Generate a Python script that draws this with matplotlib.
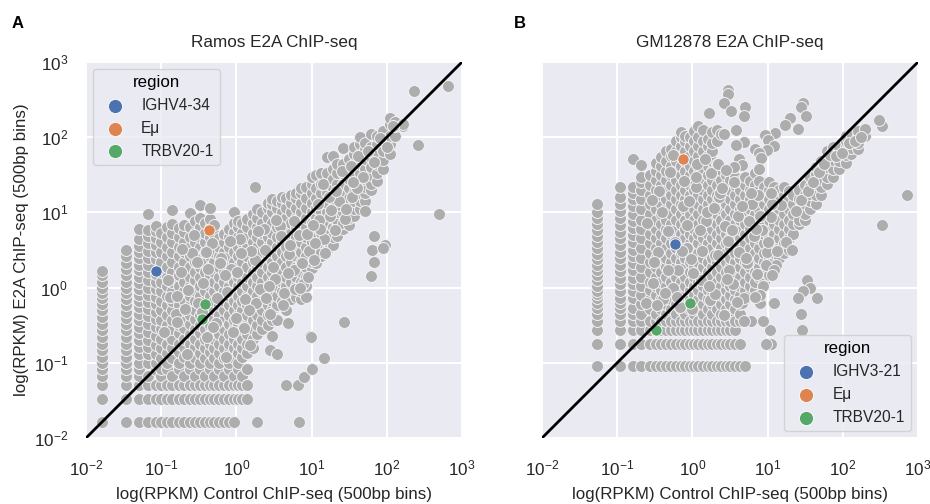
import matplotlib
matplotlib.use('Agg')
import matplotlib.pyplot as plt

plt.rcParams['font.family'] = ['Liberation Sans', 'DejaVu Sans']
plt.rcParams['mathtext.default'] = 'regular'

gray = '#adadad'
region_colors = ['#4C72B0', '#DD8452', '#55A868']

# panel A, columns of the dense cloud
a_col_x = [0.0165, 0.034, 0.05, 0.067, 0.085, 0.1, 0.12, 0.14, 0.17, 0.2, 0.24, 0.28, 0.33, 0.38, 0.44, 0.5,
           0.58, 0.68, 0.8, 0.92, 1.05, 1.2, 1.4, 1.65, 1.9, 2.2, 2.6, 3, 3.5, 4, 4.6, 5.4, 6.2, 7.2, 8.4,
           10, 11.5, 13.5, 16, 19, 22, 26, 31, 37, 44, 52, 62, 75, 90, 110, 130, 165]
a_col_y = [
    [.0165, .033, .05, .066, .083, .1, .12, .15, .18, .22, .27, .33, .41, .5, .6, .72, .85, 1, 1.2, 1.45, 1.65],
    [.0165, .033, .05, .066, .083, .1, .12, .15, .18, .22, .27, .33, .4, .48, .58, .7, .85, 1, 1.2, 1.45, 1.75, 2.1, 2.6, 3.2],
    [.0165, .033, .05, .066, .083, .1, .13, .16, .2, .25, .3, .37, .45, .55, .66, .8, .95, 1.15, 1.4, 1.7, 2, 2.5, 3, 3.6, 4.4, 6],
    [.0165, .033, .05, .066, .1, .13, .16, .2, .26, .33, .42, .52, .65, .8, 1, 1.25, 1.6, 2, 2.5, 3.1, 3.9, 4.8, 5.8, 9.6],
    [.0165, .033, .05, .08, .1, .13, .17, .23, .3, .38, .48, .6, .75, .95, 1.2, 1.5, 2.4, 3, 3.7, 4.6, 5.6, 6.5],
    [.0165, .033, .05, .066, .083, .115, .155, .21, .28, .37, .5, .67, .9, 1.2, 1.6, 2.2, 3, 4, 5.4],
    [.0165, .033, .05, .083, .1, .135, .18, .24, .32, .43, .58, .78, 1.05, 1.4, 1.9, 2.6, 3.5, 4.7, 6.3],
    [.0165, .033, .05, .066, .115, .155, .21, .28, .37, .5, .67, .9, 1.2, 1.6, 2.2, 3, 4, 5.4, 7, 10.6],
    [.0165, .033, .05, .083, .1, .14, .18, .25, .32, .44, .58, .8, 1.05, 1.45, 1.9, 2.6, 3.5, 4.7, 6.2],
    [.0165, .033, .05, .066, .12, .16, .21, .29, .37, .5, .68, .9, 1.2, 1.65, 2.2, 3, 4, 5.5, 6.8],
    [.0165, .033, .05, .083, .1, .135, .18, .24, .33, .43, .58, .78, 1.05, 1.4, 1.9, 2.6, 3.5, 4.7, 6.3, 9.8],
    [.0165, .033, .05, .066, .115, .16, .21, .28, .38, .5, .67, .9, 1.25, 1.6, 2.2, 3, 4, 5.4, 7.6],
    [.0165, .033, .05, .083, .1, .135, .18, .25, .32, .43, .6, .78, 1.05, 1.4, 1.9, 2.7, 3.5, 4.7, 6.3, 8.4, 12.6],
    [.0165, .033, .05, .066, .115, .155, .21, .28, .37, .52, .67, .9, 1.2, 1.6, 2.2, 3, 4.1, 5.4, 7.2],
    [.0165, .033, .05, .083, .1, .14, .18, .24, .32, .43, .58, .78, 1.05, 1.45, 1.9, 2.6, 3.5, 4.7, 6.2, 8.2, 11.5],
    [.0165, .033, .05, .066, .115, .155, .21, .28, .38, .5, .67, .9, 1.2, 1.6, 2.2, 3, 4, 5.2, 6.8],
    [.0165, .033, .05, .083, .1, .135, .18, .24, .32, .43, .58, .78, 1.05, 1.4, 1.9, 2.6, 3.5, 4.6],
    [.0165, .033, .05, .066, .115, .155, .21, .28, .37, .5, .67, .9, 1.2, 1.6, 2.2, 3, 4, 5.2],
    [.0165, .033, .05, .083, .1, .135, .18, .24, .33, .43, .58, .78, 1.05, 1.4, 1.9, 2.6, 3.5, 4.7, 6],
    [.0165, .033, .05, .066, .115, .155, .21, .28, .37, .5, .67, .9, 1.2, 1.6, 2.2, 3, 4, 5.5, 7.3, 10.2],
    [.033, .05, .083, .1, .135, .18, .24, .32, .43, .58, .78, 1.05, 1.4, 1.9, 2.6, 3.5, 4.7, 6.3, 7.6],
    [.033, .05, .066, .12, .155, .21, .28, .37, .5, .67, .9, 1.2, 1.6, 2.2, 3, 4, 5.4, 7.3],
    [.033, .05, .083, .135, .18, .24, .32, .43, .58, .78, 1.05, 1.4, 1.9, 2.6, 3.5, 4.7, 6.3, 8.2],
    [.155, .21, .28, .37, .5, .67, .9, 1.2, 1.6, 2.2, 3, 4, 5.4, 7.3, 9.5],
    [.24, .32, .43, .58, .78, 1.05, 1.4, 1.9, 2.6, 3.5, 4.7, 6.3, 8.5, 11],
    [.28, .37, .5, .67, .9, 1.2, 1.6, 2.2, 3, 4, 5.4, 7.3, 10],
    [.32, .43, .58, .78, 1.05, 1.4, 1.9, 2.6, 3.5, 4.7, 6.3, 8.5, 11.5, 13.3],
    [.37, .5, .67, .9, 1.2, 1.6, 2.2, 3, 4, 5.4, 7.3, 10, 13, 15],
    [.37, .58, .78, 1.05, 1.4, 1.9, 2.6, 3.5, 4.7, 6.3, 8.5, 11.5, 14],
    [.67, .9, 1.2, 1.6, 2.2, 3, 4, 5.4, 7.3, 10, 13.5, 16],
    [.5, .78, 1.05, 1.4, 1.9, 2.6, 3.5, 4.7, 6.3, 8.5, 11.5, 15.5],
    [.7, .9, 1.2, 1.6, 2.2, 3, 4, 5.4, 7.3, 10, 13.5, 17],
    [.75, 1.05, 1.4, 1.9, 2.6, 3.5, 4.7, 6.3, 8.5, 11.5, 15.5, 18],
    [.7, .9, 1.2, 1.6, 2.2, 3, 4, 5.4, 7.3, 10, 13.5, 18, 21],
    [.75, 1.05, 1.4, 1.9, 2.6, 3.5, 4.7, 6.3, 8.5, 11.5, 15.5, 22],
    [1.8, 2.2, 3, 4, 5.4, 7.3, 10, 13.5, 18, 24, 30],
    [2.1, 2.6, 3.5, 4.7, 6.3, 8.5, 11.5, 15.5, 21, 31],
    [2.6, 3, 4, 5.4, 7.3, 10, 13.5, 18, 24, 33],
    [3.2, 4.2, 5.4, 7.3, 10, 13.5, 18, 24, 33, 55],
    [3.7, 4.7, 6.3, 8.5, 11.5, 15.5, 21, 28, 38, 57],
    [4.8, 6, 8, 10, 13.5, 18, 24, 33, 44],
    [6, 7.3, 10, 13.5, 18, 24, 33, 44, 71],
    [6.8, 8.5, 11.5, 15.5, 21, 28, 38, 51],
    [9, 11, 14, 18, 24, 33, 44, 60, 75],
    [11, 14, 18, 24, 33, 44, 60, 80, 100],
    [14, 18, 22, 28, 38, 51, 69, 85],
    [20, 24, 31, 40, 55, 75, 110],
    [26, 33, 44, 60, 80, 105],
    [38, 50, 66, 90, 120],
    [60, 80, 105, 150, 182],
    [105, 140, 160],
    [140, 150],
]

# panel A, points off the column pattern
a_fill_x = [.11, .13, .155, .185, .22, .26, .31, .36, .41, .47, .54, .63, .74, .86, .98, 1.12, 1.3, 1.5, 1.78, 2.05,
            2.4, 2.8, 3.25, 3.75, 4.3, 5, 5.8, 6.7, 7.8, 9.2, 10.8, 12.5, 14.8, 17.5, 20.5, 24, 28, 34, 40, 48,
            .125, .16, .19, .23, .27, .35, .42, .49, .6, .72, .83, 1.01, 1.25, 1.58, 1.85, 2.3, 2.75, 3.4, 4.15, 5.1,
            6, 7.5, 9, 11, 13, 15, 18, 23, 29, 35, .16, .21, .3, .4, .55, .7, .9, 1.15, 1.45, 1.95,
            2.5, 3.1, 3.9, 4.8, 5.9, 7.1, 8.7, 10.5, 12, 14, 17, 21, 25, 33, 42, 56, 68, 82, 100, 120]
a_fill_y = [.26, .74, .44, 1.62, .13, 2.9, .63, 1.14, .22, 3.9, .34, 2.5, .87, 1.75, .4, 4.4, .71, .17, 2.35, .95,
            3.2, .45, 1.3, 6.6, .85, 2.8, 1.7, 5, 1.1, 3.1, 2.3, 7.9, 4.4, 9, 5.8, 12.5, 8.2, 16, 21, 30,
            1.28, .35, 3.3, .92, 5, .47, 1.75, .3, 2.1, .12, 4.2, 1.62, .29, 3.05, .62, 6.1, 1.05, 8, .58, 3.7,
            .96, 2.1, 1.4, 3.9, 6, 2.9, 10.8, 14, 11, 25, .78, .52, 2.2, 3, .72, 1.48, .26, 2.85, .5, 5.6,
            .72, 1.9, 4.8, 1.55, 7.8, .98, 5.2, 6.7, 13, 24, 16, 19, 36, 42, 56, 66, 47, 97, 75, 140]

# panel A, points outside the cloud
a_out_x = [1.9, 6.8, 4.5, 6.5, 8, 10, 14.8, 27, 9.6, 9.8, 3, 2.8, 3.5, 4.9, 61, 68, 63, 96, 90, 68, 490, 260, 650, 230, 1.75, 52]
a_out_y = [.0165, .0165, .05, .05, .065, .083, .117, .35, .23, .22, .23, .148, .132, .34, 1.44, 2.2, 3.2, 3.7, 3.4, 4.8, 9.6, 78, 480, 410, 22, 10.4]

a_region_names = ['IGHV4-34', 'Eμ', 'TRBV20-1']
a_region_x = [[.085], [.43], [.387, .35]]
a_region_y = [[1.67], [5.8], [.61, .385]]

# panel B, columns of the dense cloud
b_col_x = [0.054, 0.11, 0.16, 0.21, 0.27, 0.33, 0.38, 0.45, 0.52, 0.6, 0.7, 0.8, 0.92, 1.05, 1.2, 1.4, 1.6, 1.85,
           2.1, 2.4, 2.8, 3.2, 3.7, 4.3, 5, 5.8, 6.7, 7.7, 9, 10.5, 12, 14, 16.5, 19, 22, 26, 31, 37, 44, 52,
           62, 75, 90, 110, 130, 160, 200]
b_col_y = [
    [.09, .18, .275, .36, .45, .54, .63, .72, .81, .9, 1.05, 1.25, 1.45, 1.7, 2, 2.4, 2.8, 3.4, 4, 4.8, 5.8, 7, 8.4, 10, 12.9],
    [.09, .18, .275, .36, .45, .54, .63, .72, .9, 1.1, 1.35, 1.65, 2, 2.5, 3, 3.7, 4.5, 5.5, 6.8, 8.4, 10.5, 13, 16, 22],
    [.09, .18, .275, .36, .45, .54, .72, .9, 1.1, 1.35, 1.7, 2.1, 2.6, 3.2, 4, 5, 6.2, 7.7, 9.5, 12, 15, 18, 22, 52],
    [.09, .18, .275, .36, .45, .6, .8, 1.05, 1.4, 1.9, 2.5, 3.4, 4.5, 6, 8, 11, 15, 20, 25, 30, 43],
    [.09, .18, .275, .36, .52, .7, .92, 1.2, 1.6, 2.2, 2.9, 3.9, 5.2, 7, 9.5, 13, 17, 23, 31],
    [.09, .18, .275, .36, .45, .6, .8, 1.05, 1.4, 1.9, 2.5, 3.4, 4.5, 6, 8, 11, 15, 20, 27, 36, 46],
    [.09, .18, .275, .36, .52, .7, .92, 1.2, 1.6, 2.2, 2.9, 3.9, 5.2, 7, 9.5, 13, 17, 23, 31, 42, 55],
    [.09, .18, .275, .36, .45, .6, .8, 1.05, 1.4, 1.9, 2.5, 3.4, 4.5, 6, 8, 11, 15, 20, 27, 36, 48, 65],
    [.09, .18, .275, .36, .52, .7, .92, 1.2, 1.6, 2.2, 2.9, 3.9, 5.2, 7, 9.5, 13, 17, 23, 31, 42, 56, 70],
    [.09, .18, .275, .36, .45, .6, .8, 1.05, 1.4, 1.9, 2.5, 3.4, 4.5, 6, 8, 11, 15, 20, 27, 36, 48, 65, 88],
    [.09, .18, .275, .36, .52, .7, .92, 1.2, 1.6, 2.2, 2.9, 3.9, 5.2, 7, 9.5, 13, 17, 23, 31, 42, 56, 76, 102, 118],
    [.09, .18, .275, .36, .45, .6, .8, 1.05, 1.4, 1.9, 2.5, 3.4, 4.5, 6, 8, 11, 15, 20, 27, 36, 48, 65, 88, 105],
    [.09, .18, .275, .36, .52, .7, .92, 1.2, 1.6, 2.2, 2.9, 3.9, 5.2, 7, 9.5, 13, 17, 23, 31, 42, 56, 76, 100],
    [.09, .18, .275, .36, .45, .6, .8, 1.05, 1.4, 1.9, 2.5, 3.4, 4.5, 6, 8, 11, 15, 20, 27, 36, 48, 65, 88, 120],
    [.09, .18, .275, .36, .52, .7, .92, 1.2, 1.6, 2.2, 2.9, 3.9, 5.2, 7, 9.5, 13, 17, 23, 31, 42, 56, 76, 102, 140],
    [.09, .18, .275, .36, .45, .6, .8, 1.05, 1.4, 1.9, 2.5, 3.4, 4.5, 6, 8, 11, 15, 20, 27, 36, 48, 65, 88, 125],
    [.09, .18, .275, .36, .52, .7, .92, 1.2, 1.6, 2.2, 2.9, 3.9, 5.2, 7, 9.5, 13, 17, 23, 31, 42, 56, 76, 95, 212],
    [.09, .18, .275, .36, .45, .6, .8, 1.05, 1.4, 1.9, 2.5, 3.4, 4.5, 6, 8, 11, 15, 20, 27, 36, 48, 65, 85, 118],
    [.09, .18, .275, .36, .52, .7, .92, 1.2, 1.6, 2.2, 2.9, 3.9, 5.2, 7, 9.5, 13, 17, 23, 31, 44, 90, 125],
    [.09, .18, .275, .36, .45, .6, .8, 1.05, 1.4, 1.9, 2.5, 3.4, 4.5, 6, 8, 11, 15, 20, 27, 37, 110],
    [.09, .18, .275, .36, .52, .7, .92, 1.2, 1.6, 2.2, 2.9, 3.9, 5.2, 7, 9.5, 13, 17, 23, 31],
    [.09, .18, .275, .36, .45, .6, .8, 1.05, 1.4, 1.9, 2.5, 3.4, 4.5, 6, 8, 11, 15, 20, 27],
    [.09, .18, .275, .36, .52, .7, .92, 1.2, 1.6, 2.2, 2.9, 3.9, 5.2, 7, 9.5, 13, 17, 23, 30, 40],
    [.09, .18, .36, .45, .6, .8, 1.05, 1.4, 1.9, 2.5, 3.4, 4.5, 6, 8, 11, 15, 20, 26, 43, 52],
    [.09, .7, .92, 1.2, 1.6, 2.2, 2.9, 3.9, 5.2, 7, 9.5, 13, 17, 23, 30],
    [.8, 1.05, 1.4, 1.9, 2.5, 3.4, 4.5, 6, 8, 11, 15, 20, 26],
    [.75, .92, 1.2, 1.6, 2.2, 2.9, 3.9, 5.2, 7, 9.5, 13, 17, 23, 33],
    [.8, 1.4, 1.9, 2.5, 3.4, 4.5, 6, 8, 11, 15, 20, 26, 38],
    [1.2, 1.6, 2.2, 2.9, 3.9, 5.2, 7, 9.5, 13, 17, 22],
    [1.45, 2, 2.5, 3.4, 4.5, 6, 8, 11, 15, 20, 25],
    [1.7, 2.2, 2.9, 3.9, 5.2, 7, 9.5, 13, 17, 22],
    [2.5, 3.4, 4.5, 6, 8, 11, 15, 20],
    [2.9, 3.9, 5.2, 7, 9.5, 13, 17, 22],
    [3.2, 4.5, 6, 8, 11, 15, 19],
    [5.2, 7, 9.5, 13, 17],
    [7, 8, 11, 15, 20],
    [8, 9.5, 13, 17, 23],
    [11, 14, 17.6, 22, 30],
    [13, 17, 24, 32, 40],
    [17, 22, 28, 36, 48],
    [24, 30, 40, 52, 65],
    [30, 38, 50, 68, 75],
    [38, 48, 60, 75],
    [46, 58, 75, 90, 105],
    [60, 72, 90, 115],
    [70, 85, 105, 120],
    [105, 130],
]

# panel B, points off the column pattern
b_fill_x = [.24, .3, .35, .41, .48, .56, .65, .75, .86, .98, 1.12, 1.3, 1.5, 1.72, 1.98, 2.25, 2.6, 3, 3.45, 4,
            4.6, 5.4, 6.2, 7.2, 8.4, 9.7, 11.2, 13, 15, 17.5, .25, .31, .36, .43, .5, .58, .68, .78, .9, 1.01,
            1.15, 1.33, 1.55, 1.78, 2.02, 2.32, 2.7, 3.1, 3.6, 4.15, 4.8, 5.6, 6.5, 7.4, 8.7, 10, 11.6, 13.5, .29, .34,
            .4, .47, .55, .63, .73, .84, .95, 1.1, 1.27, 1.47, 1.68, 1.92, 2.2, 2.5, 2.9, 3.35, 3.9, 4.5, 5.2, 6,
            7, 8, 9.4, 11, 24, 28, 34, 40, 48, 57, 68, 82, 98, 120, 145, 175]
b_fill_y = [.62, 1.15, 3, .7, 5.6, .98, 1.7, 12, 3.4, .52, 22, 1.28, 7.6, .68, 2.7, 16, .43, 4.2, 1.1, 9,
            .62, 2.15, 13, 1.5, 5.8, 3, 8.6, 2, 12.5, 4, 7.3, 2.2, 19, .85, 34, 4, .56, 26, 14, 1.55,
            44, 3.1, 10, 33, .82, 18, 6.6, 1.74, 25, 3, .72, 7.6, 4.9, 17, 1.05, 4, 13, 3.1, 14.5, .58,
            10, 1.7, 58, .74, 3.1, 6.7, 2.4, 30, 5.9, 52, 1.05, 11.5, 2.7, 21, 1.32, 5.8, .64, 12, 2.5, 18,
            6, 9, 2, 18, 10.5, 14.5, 19.5, 25, 34, 44, 58, 57, 62, 84, 88, 100]

# panel B, points outside the cloud
b_out_x = [2.95, 2.95, 2.6, 3.3, 5, 4.8, 1.66, 3.8, 2.65, 29.6, 28, 32, 20, 17, 25.6, 12.6, 9.2, 10, 4.9, 3.8, 12, 9.8,
           6.7, 7.6, 8.2, 4.2, 4.6, 3.6, 7.6, 2.2, 2.8, 335, 300, 720, 330, 20.9, 33.6, 37, 29.8, 46, 25.6, 27.6, 29,
           10.8, 11, 9.4, 12, 8.8, 6.1, 4.9, 7.9, 8, 6.8, 12, 11.3]
b_out_y = [420, 380, 285, 223, 250, 190, 212, 126, 110, 288, 250, 190, 180, 147, 127, 112, 108, 91, 86, 79, 77, 68,
           70, 62, 53, 52, 43, 40, 38, 44, 37, 142, 170, 17, 6.9, 3.2, 1.26, 1, .9, .72, .72, .45, .27,
           .275, .18, .18, .63, .36, .36, .36, .63, .8, .75, 1.7, 1.45]

b_region_names = ['IGHV3-21', 'Eμ', 'TRBV20-1']
b_region_x = [[.59], [.76], [.92, .325]]
b_region_y = [[3.8], [52], [.63, .27]]


def flat_columns(col_x, col_y):
    xs = []
    ys = []
    for x, column in zip(col_x, col_y):
        for y in column:
            xs.append(x)
            ys.append(y)
    return xs, ys


def draw_panel(ax, col_x, col_y, fill_x, fill_y, out_x, out_y, names, reg_x, reg_y, title, legend_pos):
    xs, ys = flat_columns(col_x, col_y)
    ax.set_facecolor('#EAEAF2')
    ax.set_xscale('log')
    ax.set_yscale('log')
    ax.grid(True, color='white', linewidth=1.5)
    ax.set_axisbelow(True)
    for side in ax.spines.values():
        side.set_visible(False)
    ax.scatter(xs + fill_x + out_x, ys + fill_y + out_y, s=74, color=gray, edgecolors='#f2f2f6', linewidths=0.7, zorder=2)
    for name, x, y, c in zip(names, reg_x, reg_y, region_colors):
        ax.scatter(x, y, s=66, color=c, edgecolors='white', linewidths=0.6, label=name, zorder=3)
    ax.plot([1e-2, 1e3], [1e-2, 1e3], color='black', linewidth=2, zorder=4)
    ax.set_xlim(1e-2, 1e3)
    ax.set_ylim(1e-2, 1e3)
    ax.minorticks_off()
    ax.set_xticks([1e-2, 1e-1, 1e0, 1e1, 1e2, 1e3])
    ax.set_yticks([1e-2, 1e-1, 1e0, 1e1, 1e2, 1e3])
    ax.tick_params(axis='both', length=0, labelsize=12.3, labelcolor='#262626')
    ax.tick_params(axis='x', pad=15)
    ax.tick_params(axis='y', pad=13)
    ax.set_title(title, fontsize=12.3, color='#262626', pad=11)
    ax.set_xlabel('log(RPKM) Control ChIP-seq (500bp bins)', fontsize=12.2, color='#262626', labelpad=6)
    leg = ax.legend(title='region', loc=legend_pos, fontsize=11.2, title_fontsize=12.2, frameon=True,
                    facecolor='#EAEAF2', edgecolor='#cccccc', framealpha=0.8, borderaxespad=0.45,
                    markerscale=1.25, labelspacing=0.5, handletextpad=0.7, borderpad=0.4)
    for t in leg.get_texts():
        t.set_color('#262626')
    leg.set_zorder(5)


fig = plt.figure(figsize=(9.3, 5.04), dpi=100)
ax_a = fig.add_axes([86 / 930, 1 - 438 / 504, 376 / 930, 376 / 504])
ax_b = fig.add_axes([542 / 930, 1 - 438 / 504, 376 / 930, 376 / 504])

draw_panel(ax_a, a_col_x, a_col_y, a_fill_x, a_fill_y, a_out_x, a_out_y, a_region_names, a_region_x, a_region_y,
           'Ramos E2A ChIP-seq', 'upper left')
draw_panel(ax_b, b_col_x, b_col_y, b_fill_x, b_fill_y, b_out_x, b_out_y, b_region_names, b_region_x, b_region_y,
           'GM12878 E2A ChIP-seq', 'lower right')

ax_a.set_ylabel('log(RPKM) E2A ChIP-seq (500bp bins)', fontsize=12.2, color='#262626', labelpad=3)
ax_b.tick_params(axis='y', labelleft=False)

fig.text(12 / 930, 1 - 28 / 504, 'A', fontsize=12, fontweight='bold', color='black')
fig.text(514 / 930, 1 - 28 / 504, 'B', fontsize=12, fontweight='bold', color='black')

fig.savefig('out.png', dpi=100)
